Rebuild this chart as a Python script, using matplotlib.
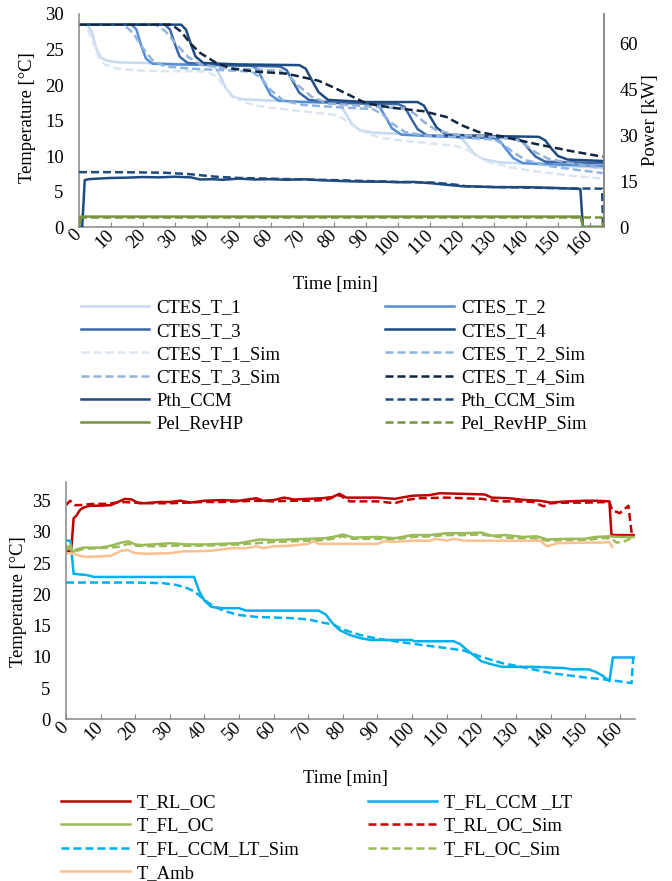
import matplotlib
matplotlib.use("Agg")
import matplotlib.pyplot as plt

plt.rcParams['font.family'] = ['Liberation Serif', 'DejaVu Serif']
plt.rcParams['font.size'] = 13.4

# ---------------- data: top chart (temperatures in degC, power in kW) ----------------
t_ctes_1 = [0, 2.5, 4, 5.5, 7, 9, 12, 20, 40, 42, 44, 46, 48, 51, 60, 80, 81.5, 83.5, 85.5, 88, 92, 105, 118, 120, 122, 124, 127, 132, 145, 164]
ctes_1 = [28.5, 28.5, 27.5, 25.0, 23.8, 23.4, 23.2, 23.1, 22.9, 22.8, 21.5, 19.5, 18.4, 18.0, 17.8, 17.5, 17.3, 16.0, 14.5, 13.6, 13.3, 13.0, 12.7, 12.4, 11.3, 10.2, 9.5, 9.1, 8.8, 8.3]

t_ctes_2 = [0, 16.5, 18, 19.5, 21, 23, 30, 54, 56, 58, 60, 62.5, 70, 92, 94, 96, 98, 101, 110, 130, 132, 134, 136, 139, 150, 164]
ctes_2 = [28.5, 28.5, 27.8, 25.5, 23.7, 23.0, 22.9, 22.7, 22.2, 20.3, 18.6, 17.8, 17.6, 17.4, 17.0, 15.5, 13.9, 13.0, 12.8, 12.5, 12.0, 10.8, 9.7, 9.0, 8.8, 8.6]

t_ctes_3 = [0, 27, 28.5, 30, 31.5, 34, 45, 63, 65, 67, 69, 72, 80, 100, 102, 104, 106, 109, 120, 137, 139, 141, 143, 146, 155, 164]
ctes_3 = [28.5, 28.5, 27.8, 25.8, 24.0, 23.1, 22.8, 22.6, 22.1, 20.5, 18.9, 17.9, 17.5, 17.3, 16.9, 15.3, 13.8, 12.9, 12.7, 12.5, 12.0, 10.9, 9.9, 9.2, 9.1, 9.0]

t_ctes_4 = [0, 32, 33.5, 35, 36.5, 39, 50, 69, 71, 73, 75, 78, 90, 106, 108, 110, 112, 115, 130, 144, 146, 148, 150, 153, 164]
ctes_4 = [28.5, 28.5, 27.8, 25.8, 24.0, 23.1, 22.9, 22.8, 22.3, 20.6, 19.0, 17.9, 17.6, 17.6, 17.1, 15.5, 14.0, 13.0, 12.8, 12.7, 12.2, 11.0, 10.0, 9.5, 9.3]

t_ctes_1_sim = [0, 2, 4, 6, 8, 12, 20, 40, 43, 46, 50, 55, 60, 70, 80, 83, 86, 90, 95, 105, 118, 121, 124, 128, 135, 145, 155, 164]
ctes_1_sim = [28.5, 28.5, 26.5, 24.0, 22.9, 22.3, 22.0, 21.9, 21.2, 19.5, 17.9, 17.1, 16.8, 16.3, 15.8, 15.2, 14.2, 13.2, 12.5, 12.0, 11.4, 11.0, 10.2, 9.2, 8.4, 7.7, 7.2, 6.8]

t_ctes_2_sim = [0, 14, 17, 20, 23, 27, 35, 54, 57, 60, 64, 70, 80, 92, 95, 98, 102, 108, 120, 130, 133, 136, 140, 147, 155, 164]
ctes_2_sim = [28.5, 28.5, 27.3, 25.2, 23.5, 22.6, 22.3, 21.9, 21.0, 19.3, 17.8, 17.2, 16.9, 16.6, 15.9, 14.6, 13.4, 12.9, 12.6, 12.3, 11.6, 10.5, 9.4, 8.6, 8.1, 7.6]

t_ctes_3_sim = [0, 24, 27, 30, 34, 38, 45, 63, 66, 69, 73, 78, 90, 102, 105, 108, 112, 118, 130, 137, 140, 143, 147, 155, 164]
ctes_3_sim = [28.5, 28.5, 27.6, 26.0, 24.0, 22.9, 22.4, 22.0, 21.2, 19.8, 18.3, 17.4, 17.0, 16.7, 16.0, 14.8, 13.6, 13.0, 12.7, 12.3, 11.5, 10.5, 9.6, 8.9, 8.3]

t_ctes_4_sim = [0, 29, 32, 35, 38, 43, 48, 55, 65, 70, 75, 80, 85, 90, 98, 108, 115, 120, 125, 133, 143, 154, 164]
ctes_4_sim = [28.5, 28.5, 27.5, 25.8, 24.5, 23.1, 22.3, 21.9, 21.6, 21.1, 20.6, 19.6, 18.5, 17.4, 16.8, 16.3, 15.5, 14.3, 13.4, 12.7, 11.7, 10.7, 9.9]

t_pth = [0, 1.0, 1.8, 3, 6, 10, 15, 20, 25, 30, 35, 38, 42, 45, 50, 55, 60, 65, 70, 75, 80, 85, 90, 95, 100, 105, 110, 115, 120, 125, 130, 140, 150, 157, 157.8, 164.4]
pth_ccm = [0, 0, 15.3, 15.6, 15.8, 16.0, 16.1, 16.3, 16.2, 16.4, 16.2, 15.5, 15.6, 15.4, 15.8, 15.5, 15.6, 15.4, 15.6, 15.3, 15.1, 14.9, 14.8, 14.8, 14.6, 14.7, 14.3, 13.8, 13.3, 13.2, 13.0, 13.0, 12.7, 12.4, 0, 0]

t_pth_sim = [0, 10, 20, 27, 35, 43, 50, 59, 70, 80, 90, 100, 111, 118, 122, 133, 143, 154, 163.8, 164.1]
pth_ccm_sim = [17.9, 17.9, 17.8, 17.7, 17.2, 16.4, 16.0, 15.8, 15.5, 15.3, 15.0, 14.7, 14.5, 13.8, 13.2, 13.0, 12.8, 12.6, 12.5, 0]

t_pel = [0, 0.6, 157, 157.9, 164.4]
pel_revhp = [0, 3.4, 3.4, 0, 0]
t_pel_sim = [0, 163.8, 164.1]
pel_revhp_sim = [3.1, 3.1, 0]

# ---------------- data: bottom chart (degC) ----------------
t_rl = [0, 1.5, 2.2, 3, 4, 5, 7, 10, 13, 15, 17, 19, 21, 23, 27, 30, 33, 36, 40, 45, 50, 55, 57, 60, 63, 66, 70, 74, 77, 79, 81, 84, 90, 95, 100, 105, 108, 115, 121, 123, 128, 133, 137, 140, 145, 150, 153, 157, 157.6, 164]
t_rl_oc = [26.9, 27.0, 32.2, 32.6, 33.5, 33.9, 34.2, 34.2, 34.3, 34.8, 35.3, 35.2, 34.6, 34.6, 34.8, 34.8, 35.0, 34.7, 35.0, 35.1, 35.0, 35.4, 35.0, 35.1, 35.5, 35.2, 35.3, 35.4, 35.6, 36.1, 35.5, 35.5, 35.5, 35.3, 35.8, 35.9, 36.2, 36.1, 36.0, 35.5, 35.4, 35.1, 35.0, 34.7, 34.9, 35.0, 35.0, 34.9, 29.5, 29.5]

t_rl_sim = [0, 1.2, 2.5, 4, 8, 12, 16, 20, 25, 30, 35, 40, 45, 50, 55, 60, 65, 70, 75, 79, 82, 90, 95, 98, 102, 110, 120, 125, 130, 135, 138, 140, 145, 150, 157, 157.8, 160, 162.5, 163.5, 164]
t_rl_oc_sim = [34.3, 35.0, 34.3, 34.3, 34.5, 34.5, 34.8, 34.7, 34.6, 34.6, 34.7, 34.8, 34.8, 34.9, 35.0, 34.9, 35.0, 35.0, 35.1, 35.9, 34.9, 34.9, 34.6, 35.1, 35.4, 35.5, 35.3, 34.9, 34.9, 34.8, 34.1, 34.6, 34.7, 34.7, 34.8, 33.5, 33.0, 34.2, 29.5, 29.4]

t_fl = [0, 1.3, 2, 3, 5, 10, 13, 16, 18, 20, 22, 25, 30, 35, 40, 45, 50, 53, 56, 60, 65, 70, 75, 78, 80, 83, 90, 95, 100, 105, 110, 115, 120, 123, 127, 132, 136, 139, 145, 150, 153, 157, 160, 164]
t_fl_oc = [27.0, 27.9, 26.7, 27.2, 27.5, 27.5, 27.8, 28.3, 28.5, 28.0, 27.9, 28.0, 28.2, 28.0, 28.0, 28.1, 28.2, 28.5, 28.8, 28.7, 28.8, 28.9, 29.0, 29.3, 29.6, 29.1, 29.2, 29.0, 29.5, 29.5, 29.8, 29.8, 29.9, 29.4, 29.5, 29.2, 29.3, 28.8, 28.9, 28.9, 29.2, 29.3, 29.2, 29.2]

t_fl_sim = [0, 1, 2.7, 5, 10, 15, 18, 20, 25, 30, 35, 40, 45, 50, 55, 60, 65, 70, 75, 80, 83, 90, 95, 100, 105, 110, 115, 120, 125, 130, 135, 139, 145, 150, 155, 157.5, 159, 161, 164]
t_fl_oc_sim = [27.8, 27.3, 26.9, 27.3, 27.4, 27.6, 28.1, 27.8, 27.7, 27.8, 27.8, 27.8, 27.9, 28.0, 28.2, 28.4, 28.5, 28.6, 28.7, 29.3, 28.9, 28.9, 28.8, 29.2, 29.3, 29.5, 29.5, 29.6, 29.2, 29.0, 29.0, 28.6, 28.7, 28.7, 29.0, 29.0, 28.3, 28.4, 29.2]

t_amb_t = [0, 2, 4, 6, 10, 13, 16, 18, 20, 24, 30, 34, 38, 42, 48, 52, 55, 57, 60, 65, 70, 71.5, 73, 80, 85, 90, 92, 95, 100, 105, 107, 110, 112, 115, 120, 130, 137, 139, 142, 150, 155, 157, 157.8]
t_amb = [26.6, 26.5, 26.2, 26.0, 26.1, 26.2, 27.0, 27.1, 26.6, 26.5, 26.6, 26.9, 26.9, 27.0, 27.4, 27.4, 27.7, 27.4, 27.7, 27.8, 28.1, 28.5, 28.1, 28.1, 28.1, 28.1, 28.5, 28.4, 28.6, 28.6, 28.9, 28.6, 28.9, 28.6, 28.6, 28.6, 28.6, 27.7, 28.2, 28.3, 28.3, 28.4, 27.6]

t_ccm = [0, 1.3, 2.2, 4, 6, 8, 20, 30, 37, 38.5, 40, 42, 45, 50, 52, 73, 75, 77, 79, 82, 85, 88, 100, 100.5, 112, 114, 116, 118, 120, 123, 126, 135, 144, 146, 151, 153, 155, 157, 158, 164]
t_fl_ccm_lt = [28.6, 28.6, 23.3, 23.2, 23.1, 22.8, 22.8, 22.8, 22.8, 20.5, 19.0, 18.0, 17.8, 17.8, 17.4, 17.4, 16.8, 15.4, 14.3, 13.5, 13.0, 12.7, 12.7, 12.5, 12.5, 12.0, 11.0, 10.2, 9.3, 8.8, 8.4, 8.4, 8.2, 8.0, 8.0, 7.6, 7.0, 6.1, 9.9, 9.9]

t_ccm_sim = [0, 10, 20, 28, 32, 35, 37, 39, 41, 43, 46, 50, 55, 60, 65, 70, 74, 77, 80, 85, 90, 100, 110, 115, 120, 126, 135, 140, 150, 157, 163.4, 163.9]
t_fl_ccm_lt_sim = [21.9, 21.9, 21.9, 21.8, 21.5, 21.0, 20.5, 19.6, 18.7, 18.0, 17.3, 16.7, 16.4, 16.3, 16.2, 16.0, 15.5, 15.2, 14.4, 13.5, 12.9, 12.1, 11.4, 11.0, 10.0, 9.0, 8.0, 7.4, 6.7, 6.3, 5.8, 9.9]

time_ticks = list(range(0, 161, 10))

# ---------------- styling ----------------
W, H = 672, 881
GRAY = '#868686'
LW = 1.8
DASH = (0, (3.2, 1.6))


def px_rect(x0, y0, x1, y1):
    return [x0 / W, 1 - y1 / H, (x1 - x0) / W, (y1 - y0) / H]


def style_axes(ax, right=False):
    ax.spines['top'].set_visible(False)
    for s in ['left', 'bottom', 'right']:
        ax.spines[s].set_color(GRAY)
        ax.spines[s].set_linewidth(1.1)
    if not right:
        ax.spines['right'].set_visible(False)
    ax.tick_params(axis='x', direction='in', length=3.6, width=0.8, color=GRAY, pad=4)
    ax.tick_params(axis='y', length=0, pad=11)
    ax.set_xlim(0, 164.4)
    ax.set_xticks(time_ticks)
    ax.set_xticklabels([str(v) for v in time_ticks])
    for lbl in ax.get_xticklabels():
        lbl.set_rotation(45)
        lbl.set_ha('right')
        lbl.set_va('center')
        lbl.set_rotation_mode('anchor')
    ax.patch.set_alpha(0)


fig = plt.figure(figsize=(W / 100, H / 100), dpi=100)

# ---------------- top chart ----------------
ax1 = fig.add_axes(px_rect(79, 14, 604, 227))
style_axes(ax1, right=True)
ax1.set_ylim(0, 30)
ax1.set_yticks(range(0, 31, 5))

h = {}
h['CTES_T_1'], = ax1.plot(t_ctes_1, ctes_1, color='#c6d9f1', lw=LW)
h['CTES_T_2'], = ax1.plot(t_ctes_2, ctes_2, color='#558ed5', lw=LW)
h['CTES_T_3'], = ax1.plot(t_ctes_3, ctes_3, color='#3c68a8', lw=LW)
h['CTES_T_4'], = ax1.plot(t_ctes_4, ctes_4, color='#1f4a80', lw=LW)
h['CTES_T_1_Sim'], = ax1.plot(t_ctes_1_sim, ctes_1_sim, color='#dce6f2', lw=LW, ls=DASH)
h['CTES_T_2_Sim'], = ax1.plot(t_ctes_2_sim, ctes_2_sim, color='#8eb4e3', lw=LW, ls=DASH)
h['CTES_T_3_Sim'], = ax1.plot(t_ctes_3_sim, ctes_3_sim, color='#95b3d7', lw=LW, ls=DASH)
h['CTES_T_4_Sim'], = ax1.plot(t_ctes_4_sim, ctes_4_sim, color='#10253f', lw=LW, ls=DASH)

ax2 = ax1.twinx()
ax2.spines['top'].set_visible(False)
ax2.spines['left'].set_visible(False)
ax2.spines['bottom'].set_visible(False)
ax2.spines['right'].set_color(GRAY)
ax2.spines['right'].set_linewidth(1.1)
ax2.tick_params(axis='y', length=0, pad=11)
ax2.set_ylim(0, 69.5)
ax2.set_yticks([0, 15, 30, 45, 60])
ax2.set_xlim(0, 164.4)

h['Pth_CCM'], = ax2.plot(t_pth, pth_ccm, color='#1f4a80', lw=LW)
h['Pth_CCM_Sim'], = ax2.plot(t_pth_sim, pth_ccm_sim, color='#1f4a80', lw=LW, ls=DASH)
h['Pel_RevHP'], = ax2.plot(t_pel, pel_revhp, color='#77933c', lw=LW)
h['Pel_RevHP_Sim'], = ax2.plot(t_pel_sim, pel_revhp_sim, color='#77933c', lw=LW, ls=DASH)

fig.text(27 / W, 1 - 118 / H, 'Temperature [°C]', rotation=90, ha='center', va='center')
fig.text(651 / W, 1 - 120 / H, 'Power [kW]', rotation=90, ha='center', va='center')
fig.text(335 / W, 1 - 285 / H, 'Time [min]', ha='center', va='center')

order_top = ['CTES_T_1', 'CTES_T_3', 'CTES_T_1_Sim', 'CTES_T_3_Sim', 'Pth_CCM', 'Pel_RevHP',
             'CTES_T_2', 'CTES_T_4', 'CTES_T_2_Sim', 'CTES_T_4_Sim', 'Pth_CCM_Sim', 'Pel_RevHP_Sim']
fig.legend([h[k] for k in order_top], order_top, ncol=2, frameon=False,
           loc='upper left', bbox_to_anchor=(80.5 / W, 1 - 299.5 / H),
           borderpad=0, borderaxespad=0, handlelength=3.7, handletextpad=0.36,
           columnspacing=5.65, labelspacing=0.33)

# ---------------- bottom chart ----------------
ax3 = fig.add_axes(px_rect(66, 482, 635, 719.3))
style_axes(ax3)
ax3.set_ylim(0, 38)
ax3.set_yticks(range(0, 36, 5))

g = {}
g['T_RL_OC'], = ax3.plot(t_rl, t_rl_oc, color='#c00000', lw=LW)
g['T_FL_CCM _LT'], = ax3.plot(t_ccm, t_fl_ccm_lt, color='#00b0f0', lw=LW)
g['T_FL_OC'], = ax3.plot(t_fl, t_fl_oc, color='#9bbb59', lw=LW)
g['T_RL_OC_Sim'], = ax3.plot(t_rl_sim, t_rl_oc_sim, color='#c00000', lw=LW, ls=DASH)
g['T_FL_CCM_LT_Sim'], = ax3.plot(t_ccm_sim, t_fl_ccm_lt_sim, color='#00b0f0', lw=LW, ls=DASH)
g['T_FL_OC_Sim'], = ax3.plot(t_fl_sim, t_fl_oc_sim, color='#9bbb59', lw=LW, ls=DASH)
g['T_Amb'], = ax3.plot(t_amb_t, t_amb, color='#fac090', lw=LW)

fig.text(19 / W, 1 - 602 / H, 'Temperature [°C]', rotation=90, ha='center', va='center')
fig.text(345 / W, 1 - 778 / H, 'Time [min]', ha='center', va='center')

order_bot = ['T_RL_OC', 'T_FL_OC', 'T_FL_CCM_LT_Sim', 'T_Amb',
             'T_FL_CCM _LT', 'T_RL_OC_Sim', 'T_FL_OC_Sim']
fig.legend([g[k] for k in order_bot], order_bot, ncol=2, frameon=False,
           loc='upper left', bbox_to_anchor=(61 / W, 1 - 794 / H),
           borderpad=0, borderaxespad=0, handlelength=3.7, handletextpad=0.36,
           columnspacing=3.7, labelspacing=0.35)

fig.savefig('out.png', dpi=100, facecolor='white')
